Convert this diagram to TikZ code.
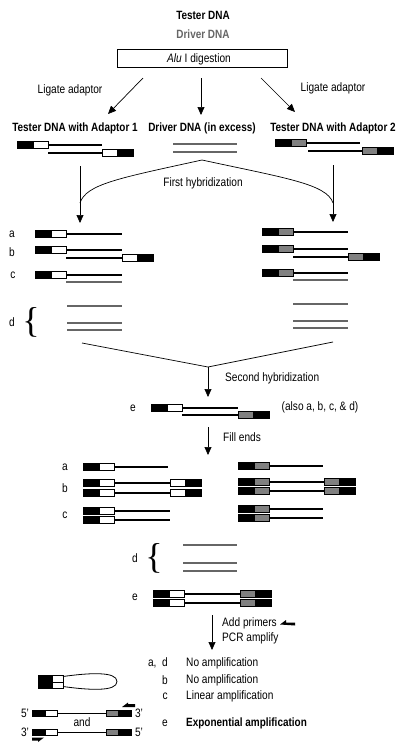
\documentclass[tikz,border=0pt]{standalone}
\usepackage{fontspec}
\setmainfont{Liberation Sans}[FakeStretch=0.83]
\newfontfamily\bracefont{Liberation Serif}
\usetikzlibrary{arrows.meta}
\colorlet{adtwo}{black!50}
\colorlet{drvgray}{black!60}

% adaptor blocks: black part + coloured part
\newcommand{\adw}{16}
\newcommand{\adc}{15}
\newcommand{\adh}{7}
\newcommand{\adl}[3]{\draw[adbox,fill=black] (#1,#2-\adh/2) rectangle ++(\adw,\adh);
  \draw[adbox,fill=#3] (#1+\adw,#2-\adh/2) rectangle ++(\adc,\adh);}
\newcommand{\adr}[3]{\draw[adbox,fill=#3] (#1,#2-\adh/2) rectangle ++(\adc,\adh);
  \draw[adbox,fill=black] (#1+\adc,#2-\adh/2) rectangle ++(\adw,\adh);}

\begin{document}
\begin{tikzpicture}[x=1pt,y=-1pt,
  txt/.style={font=\fontsize{12.2}{14}\selectfont,inner sep=0pt},
  ttl/.style={font=\fontsize{12}{14}\selectfont\bfseries,inner sep=0pt},
  brc/.style={font=\bracefont\fontsize{36}{36}\selectfont,inner sep=0pt},
  strand/.style={line width=1.1pt},
  drv/.style={line width=1.1pt,draw=drvgray},
  adbox/.style={line width=0.5pt},
  link/.style={line width=0.7pt},
  arr/.style={line width=0.7pt,-{Triangle[length=8pt,width=7pt]}}]
\useasboundingbox[fill=white] (0,0) rectangle (400,750);

% titles
\node[ttl] (tester) at (203,15) {Tester DNA};
\node[ttl,text=drvgray] (driver) at (203,34) {Driver DNA};
\node[draw,line width=0.7pt,minimum width=170pt,minimum height=18pt] (alu) at (202,58.5) {};
\node[txt] (alutxt) at (199,59) {\textit{Alu} I digestion};
\coordinate (a1) at (143,78); \coordinate (a1e) at (108,114);
\coordinate (a2) at (201,78); \coordinate (a2e) at (201,115);
\coordinate (a3) at (261,78); \coordinate (a3e) at (295,112);
\draw[arr] (a1) -- (a1e); \draw[arr] (a2) -- (a2e); \draw[arr] (a3) -- (a3e);
\node[txt] (ligL) at (70,90) {Ligate adaptor};
\node[txt] (ligR) at (333,88) {Ligate adaptor};
\node[ttl] (tone) at (75,128) {Tester DNA with Adaptor 1};
\node[ttl] (drx) at (202,128) {Driver DNA (in excess)};
\node[ttl] (ttwo) at (333,128) {Tester DNA with Adaptor 2};

% starting molecules
\adl{17}{145}{white} \draw[strand] (48,145) -- (102,145);
\draw[strand] (48,153) -- (102,153); \adr{102}{153}{white}
\draw[drv] (173,144) -- (237,144); \draw[drv] (173,152) -- (237,152);
\adl{275}{143}{adtwo} \draw[strand] (306,143) -- (360,143);
\draw[strand] (308,151) -- (362,151); \adr{362}{151}{adtwo}

% first hybridization
\coordinate (hL) at (80,166); \coordinate (hLe) at (80,223);
\coordinate (hR) at (333,165); \coordinate (hRe) at (333,222);
\coordinate (dsrc) at (202,160);
\draw[arr] (hL) -- (hLe); \draw[arr] (hR) -- (hRe);
\draw[link] (dsrc) .. controls (120,178) and (86,184) .. (80,203);
\draw[link] (dsrc) .. controls (285,178) and (327,184) .. (333,203);
\node[txt] (fhyb) at (203,183) {First hybridization};

\node[txt] (la) at (12,234) {a}; \node[txt] (lb) at (12,252) {b};
\node[txt] (lc) at (13,275) {c}; \node[txt] (ld) at (12,322) {d};
\node[brc] (brL) at (31,322) {\{};
% left column
\adl{35}{234}{white} \draw[strand] (66,234) -- (122,234);
\adl{35}{250}{white} \draw[strand] (66,250) -- (122,250);
\draw[strand] (66,258) -- (122,258); \adr{122}{258}{white}
\adl{35}{275}{white} \draw[strand] (66,275) -- (122,275);
\draw[drv] (66,282) -- (122,282);
\foreach \y in {306,323,330}{\draw[drv] (67,\y) -- (122,\y);}
% right column
\adl{262}{232}{adtwo} \draw[strand] (293,232) -- (348,232);
\adl{262}{249}{adtwo} \draw[strand] (293,249) -- (348,249);
\draw[strand] (293,257) -- (348,257); \adr{348}{257}{adtwo}
\adl{262}{273}{adtwo} \draw[strand] (293,273) -- (348,273);
\draw[drv] (293,280) -- (348,280);
\foreach \y in {304,321,328}{\draw[drv] (293,\y) -- (348,\y);}

% second hybridization
\coordinate (cL) at (82,343); \coordinate (cR) at (333,342);
\coordinate (cm) at (208,367); \coordinate (cme) at (208,397);
\draw[link] (cL) -- (cm) -- (cR);
\draw[arr] (cm) -- (cme);
\node[txt,anchor=west] (shyb) at (225,378) {Second hybridization};
\node[txt] (le1) at (133,408) {e};
\adl{151}{408}{white} \draw[strand] (182,408) -- (238,408);
\draw[strand] (182,415) -- (238,415); \adr{238}{415}{adtwo}
\node[txt] (also) at (320,407) {(also a, b, c, \& d)};

% fill ends
\coordinate (fe) at (208,427); \coordinate (fee) at (208,455);
\draw[arr] (fe) -- (fee);
\node[txt,anchor=west] (fill) at (223,437) {Fill ends};
\node[txt] (fa) at (65,467) {a}; \node[txt] (fb) at (65,488) {b};
\node[txt] (fc) at (65,515) {c};
\adl{83}{467}{white} \draw[strand] (114,467) -- (168,467);
\foreach \y in {483,493}{\adl{83}{\y}{white} \draw[strand] (114,\y) -- (170,\y); \adr{170}{\y}{white}}
\foreach \y in {511,520}{\adl{83}{\y}{white} \draw[strand] (114,\y) -- (170,\y);}
\adl{238}{466}{adtwo} \draw[strand] (269,466) -- (323,466);
\foreach \y in {482,491}{\adl{238}{\y}{adtwo} \draw[strand] (269,\y) -- (324,\y); \adr{324}{\y}{adtwo}}
\foreach \y in {509,518}{\adl{238}{\y}{adtwo} \draw[strand] (269,\y) -- (323,\y);}

\node[txt] (fd) at (135,558) {d};
\node[brc] (brM) at (154,558) {\{};
\foreach \y in {545,563,571}{\draw[drv] (183,\y) -- (237,\y);}
\node[txt] (fe2) at (135,597) {e};
\foreach \y in {594,603}{\adl{153}{\y}{white} \draw[strand] (184,\y) -- (240,\y); \adr{240}{\y}{adtwo}}

% PCR
\coordinate (pc) at (212,615); \coordinate (pce) at (212,650);
\draw[arr] (pc) -- (pce);
\node[txt,anchor=west] (prim) at (222,623) {Add primers};
\fill (280,624.5) -- (286,620) -- (286,622.5) -- (295,622.5) -- (295,625.5) -- cycle;
\node[txt,anchor=west] (pcr) at (222,638) {PCR amplify};

\node[txt,anchor=east] (rad) at (168,663) {a,\ \ d};
\node[txt,anchor=east] (rb) at (168,680) {b};
\node[txt,anchor=east] (rc) at (168,696) {c};
\node[txt,anchor=east] (re) at (168,723) {e};
\node[txt,anchor=west] (rad2) at (186,663) {No amplification};
\node[txt,anchor=west] (rb2) at (186,680) {No amplification};
\node[txt,anchor=west] (rc2) at (186,696) {Linear amplification};
\node[ttl,anchor=west] (re2) at (186,723) {Exponential amplification};

% hairpin and exponential product
\begin{scope}
\renewcommand{\adw}{14}\renewcommand{\adc}{11}\renewcommand{\adh}{6.5}
\adl{38}{678.5}{white} \adl{38}{685}{white}
\draw[line width=0.8pt] (63,676.5) .. controls (88,673) and (117,671) .. (117,681.5)
  .. controls (117,692) and (88,690) .. (63,686.5);
\end{scope}
\begin{scope}
\renewcommand{\adw}{13}\renewcommand{\adc}{12}\renewcommand{\adh}{6.5}
\foreach \y in {713,732}{\adl{32}{\y}{white} \draw[line width=0.8pt] (57,\y) -- (106,\y); \adr{106}{\y}{adtwo}}
\end{scope}
\node[txt] (p5a) at (25,713) {5'}; \node[txt] (p3a) at (139,713) {3'};
\node[txt] (p3b) at (25,732) {3'}; \node[txt] (p5b) at (139,732) {5'};
\node[txt] (and) at (82,722) {and};
\fill (122,707) -- (128,702.5) -- (128,704) -- (135,704) -- (135,707) -- cycle;
\fill (44,737.5) -- (38,742) -- (38,740.5) -- (32,740.5) -- (32,737.5) -- cycle;
\end{tikzpicture}
\end{document}
